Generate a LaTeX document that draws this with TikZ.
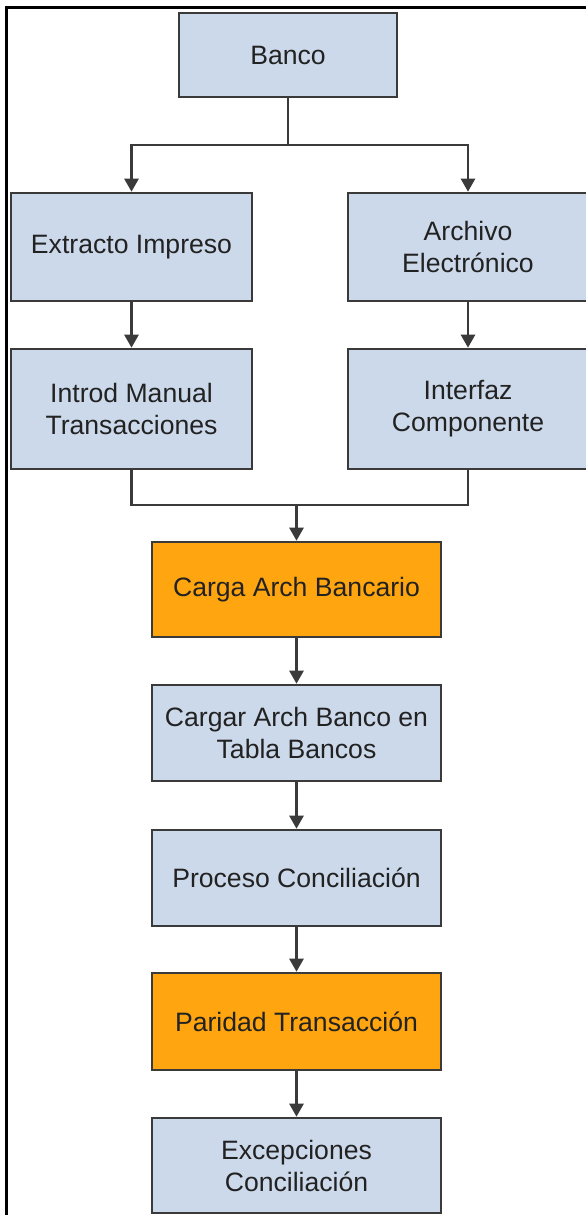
\documentclass[tikz,border=0pt]{standalone}
\usepackage{fontspec}
\setmainfont{Liberation Sans}
\usetikzlibrary{arrows.meta}
\definecolor{boxblue}{RGB}{204,217,234}
\definecolor{boxorange}{RGB}{255,165,16}
\definecolor{edgegray}{RGB}{58,58,58}
\definecolor{txtgray}{RGB}{34,34,34}
\tikzset{
  box/.style={draw=edgegray, line width=2.6pt, fill=boxblue, inner sep=0pt,
    align=center, text=txtgray,
    font=\fontsize{26.6}{32}\selectfont},
  hibox/.style={box, fill=boxorange},
  conn/.style={draw=edgegray, line width=2.6pt},
  arr/.style={conn, -{Triangle[length=13pt,width=14pt]}},
}
\begin{document}
\begin{tikzpicture}[x=1pt,y=-1pt]
\useasboundingbox (0,0) rectangle (586,1215);
\fill[white] (0,0) rectangle (586,1215);
\draw[line width=3pt, black] (6,1215) -- (6,8) -- (586,8);

\node[box, minimum width=218pt, minimum height=84pt] (banco) at (288,55) {Banco};
\node[box, minimum width=241pt, minimum height=108pt] (extracto) at (131.5,247) {Extracto Impreso};
\node[box, minimum width=240pt, minimum height=108pt] (archivo) at (468,247) {Archivo\\Electrónico};
\node[box, minimum width=241pt, minimum height=120pt] (introd) at (131.5,409) {Introd Manual\\Transacciones};
\node[box, minimum width=240pt, minimum height=120pt] (interfaz) at (468,409) {Interfaz\\Componente};
\node[hibox, minimum width=289pt, minimum height=95pt] (carga) at (296.5,589.5) {Carga Arch Bancario};
\node[box, minimum width=289pt, minimum height=96pt] (cargar) at (296.5,733) {Cargar Arch Banco en\\Tabla Bancos};
\node[box, minimum width=289pt, minimum height=96pt] (proceso) at (296.5,878) {Proceso Conciliación};
\node[hibox, minimum width=289pt, minimum height=97pt] (paridad) at (296.5,1021.5) {Paridad Transacción};
\node[box, minimum width=289pt, minimum height=95pt] (excep) at (296.5,1165.5) {Excepciones\\Conciliación};

\coordinate (split) at (288,145);
\coordinate (merge) at (296.5,505);

\draw[conn] (banco) -- (split);
\draw[arr] (split) -| (extracto);
\draw[arr] (split) -| (archivo);
\draw[arr] (extracto) -- (introd);
\draw[arr] (archivo) -- (interfaz);
\draw[conn] (introd) |- (merge);
\draw[conn] (interfaz) |- (merge);
\draw[arr] (merge) -- (carga);
\draw[arr] (carga) -- (cargar);
\draw[arr] (cargar) -- (proceso);
\draw[arr] (proceso) -- (paridad);
\draw[arr] (paridad) -- (excep);
\end{tikzpicture}
\end{document}
